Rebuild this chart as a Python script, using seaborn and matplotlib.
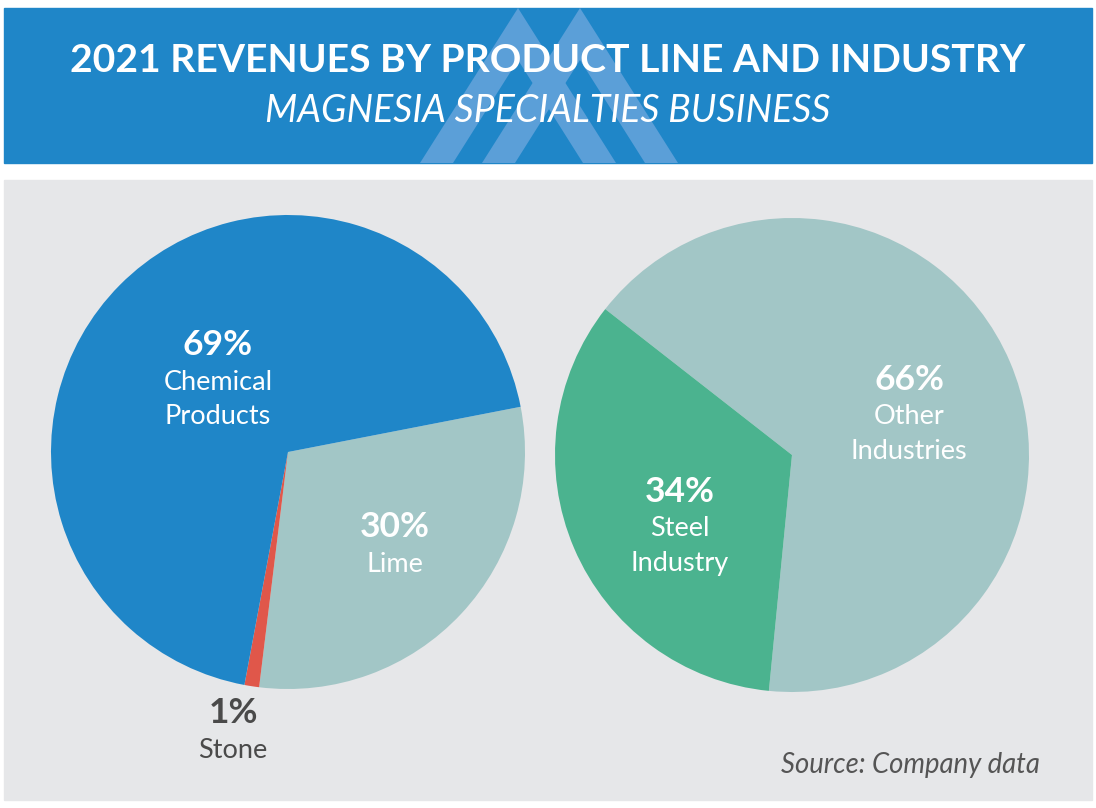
import matplotlib
matplotlib.use("Agg")
import matplotlib.pyplot as plt
import seaborn as sns
from matplotlib.patches import Rectangle, Polygon

sns.set_theme(style="white")
plt.rcParams['font.family'] = ['Lato', 'DejaVu Sans']

# data
product_lines = ['Lime', 'Stone', 'Chemical\nProducts']
product_share = [30, 1, 69]
industries = ['Other\nIndustries', 'Steel\nIndustry']
industry_share = [66, 34]

title = '2021 REVENUES BY PRODUCT LINE AND INDUSTRY'
subtitle = 'MAGNESIA SPECIALTIES BUSINESS'
source = 'Source: Company data'

BLUE = '#1f86c8'
TEAL = '#a2c6c6'
RED = '#e0574a'
GREEN = '#4bb38f'
PANEL = '#e6e7e9'
LOGO = '#5b9fd8'

W, H = 1096, 808
fig = plt.figure(figsize=(W / 100, H / 100), dpi=100)
fig.patch.set_facecolor('white')

# background shapes, pixel coords, under the pies
back = fig.add_axes([0, 0, 1, 1], zorder=-1)
back.set_xlim(0, W)
back.set_ylim(H, 0)
back.axis('off')
back.add_patch(Rectangle((4, 8), 1088, 155, color=BLUE))
back.add_patch(Rectangle((4, 180), 1088, 620, color=PANEL))

# logo: two chevrons in the header
for cx in (518, 580):
    back.add_patch(Polygon([(cx - 98, 163), (cx, 8), (cx + 98, 163), (cx + 65, 163),
                            (cx, 60), (cx - 65, 163)], closed=True,
                           color=LOGO, lw=0))


def place_pie(cx, cy, r):
    return fig.add_axes([(cx - r) / W, 1 - (cy + r) / H, 2 * r / W, 2 * r / H])


# left pie: product line
ax1 = place_pie(288, 452, 237)
ax1.pie(product_share, colors=[TEAL, RED, BLUE], startangle=11,
        counterclock=False, wedgeprops=dict(linewidth=0))

# right pie: industry
ax2 = place_pie(792, 455, 237)
ax2.pie(industry_share, colors=[TEAL, GREEN], startangle=142,
        counterclock=False, wedgeprops=dict(linewidth=0))

for ax in (ax1, ax2):
    ax.set_xlim(-1, 1)
    ax.set_ylim(-1, 1)
    ax.set_aspect('equal')

# text layer on top, pixel coords
top = fig.add_axes([0, 0, 1, 1], zorder=5)
top.set_xlim(0, W)
top.set_ylim(H, 0)
top.axis('off')
top.patch.set_visible(False)

top.text(548, 61, title, color='white', fontsize=28.2, fontweight='bold',
         ha='center', va='center')
top.text(548, 111, subtitle, color='white', fontsize=27, fontstyle='italic',
         ha='center', va='center')
top.text(1040, 765, source, color='#555555', fontsize=19.8, fontstyle='italic',
         ha='right', va='center')

labels = [
    (218, 345, '69%', 'Chemical\nProducts', 'white'),
    (395, 527, '30%', 'Lime', 'white'),
    (233, 713, '1%', 'Stone', '#4a4a4a'),
    (909, 380, '66%', 'Other\nIndustries', 'white'),
    (680, 492, '34%', 'Steel\nIndustry', 'white'),
]
for x, y, pct, name, col in labels:
    top.text(x, y, pct, color=col, fontsize=25.5, fontweight='bold',
             ha='center', va='center')
    for k, line in enumerate(name.split('\n')):
        top.text(x, y + 37 + 34.5 * k, line, color=col, fontsize=19.5,
                 ha='center', va='center')

fig.savefig('out.png', dpi=100, facecolor='white')
